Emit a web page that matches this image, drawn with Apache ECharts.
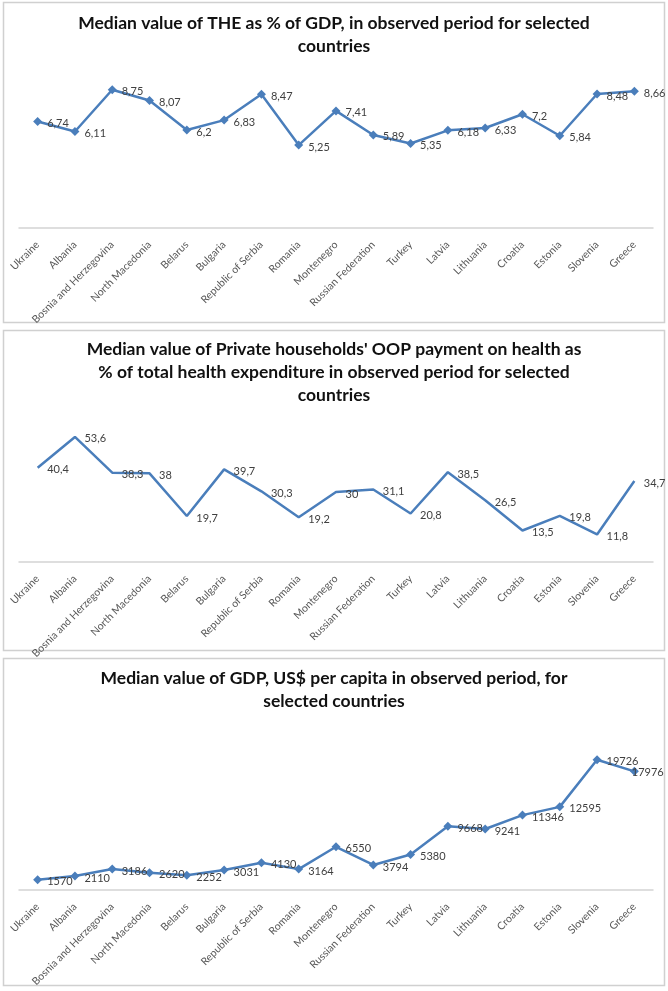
<!DOCTYPE html>
<html>
<head>
<meta charset="utf-8">
<script src="https://cdn.jsdelivr.net/npm/echarts@6/dist/echarts.min.js"></script>
<style>
html,body{margin:0;padding:0;background:#fff;}
#c{width:668px;height:991px;}
</style>
</head>
<body>
<div id="c"></div>
<script>
const countries = ["Ukraine","Albania","Bosnia and Herzegovina","North Macedonia","Belarus","Bulgaria","Republic of Serbia","Romania","Montenegro","Russian Federation","Turkey","Latvia","Lithuania","Croatia","Estonia","Slovenia","Greece"];
const theGdp = [6.74,6.11,8.75,8.07,6.2,6.83,8.47,5.25,7.41,5.89,5.35,6.18,6.33,7.2,5.84,8.48,8.66];
const oopShare = [40.4,53.6,38.3,38,19.7,39.7,30.3,19.2,30,31.1,20.8,38.5,26.5,13.5,19.8,11.8,34.7];
const gdpPerCapita = [1570,2110,3186,2620,2252,3031,4130,3164,6550,3794,5380,9668,9241,11346,12595,19726,17976];
const titles = [
  "Median value of THE as % of GDP, in observed period for selected\ncountries",
  "Median value of Private households' OOP payment on health as\n% of total health expenditure in observed period for selected\ncountries",
  "Median value of GDP, US$ per capita in observed period, for\nselected countries"
];
const yMax = [10, 60, 25000];

const FONT = "Lato, 'Open Sans', sans-serif";
const blue = "#4a7ebb";
const chart = echarts.init(document.getElementById('c'));

const grids = [
  {left:19, right:15, top:70, bottom:991-228},
  {left:19, right:15, top:422, bottom:991-562},
  {left:19, right:15, top:725, bottom:991-890}
];
const titleTops = [7, 333, 662];
const seriesData = [theGdp, oopShare, gdpPerCapita];
const showMarkers = [true, false, true];

function buildData(arr, i){
  return arr.map((v,k)=>{
    if (i===2 && k===arr.length-1) {
      return {value:v, label:{offset:[-12,1]}};
    }
    return v;
  });
}

const option = {
  animation:false,
  backgroundColor:'#fff',
  graphic:[
    {type:'rect', shape:{x:3.5,y:2.5,width:661,height:320}, style:{fill:'none',stroke:'#d0d0d0',lineWidth:1.5}},
    {type:'rect', shape:{x:3.5,y:330.5,width:661,height:320}, style:{fill:'none',stroke:'#d0d0d0',lineWidth:1.5}},
    {type:'rect', shape:{x:3.5,y:658.5,width:661,height:327}, style:{fill:'none',stroke:'#d0d0d0',lineWidth:1.5}}
  ],
  title: titles.map((t,i)=>({
    text:t, left:'center', top:titleTops[i],
    textStyle:{fontFamily:FONT, fontSize:17.5, fontWeight:'bold', color:'#111', lineHeight:23}
  })),
  grid: grids,
  xAxis: grids.map((g,i)=>({
    type:'category', gridIndex:i, data:countries, boundaryGap:true,
    axisLine:{lineStyle:{color:'#d4d4d4', width:1.5}},
    axisTick:{show:false},
    axisLabel:{rotate:45, interval:0, fontFamily:FONT, fontSize:10.5, color:'#595959', margin:15}
  })),
  yAxis: grids.map((g,i)=>({
    type:'value', gridIndex:i, min:0, max:yMax[i],
    axisLine:{show:false}, axisTick:{show:false}, axisLabel:{show:false},
    splitLine:{show:false}
  })),
  series: seriesData.map((d,i)=>({
    type:'line', xAxisIndex:i, yAxisIndex:i, data:buildData(d,i),
    symbol: 'diamond',
    symbolSize: showMarkers[i] ? 9 : 1,
    showSymbol: true,
    lineStyle:{color:blue, width:2.5},
    itemStyle:{color: showMarkers[i] ? blue : 'rgba(0,0,0,0)'},
    label:{show:true, position:'right', distance: showMarkers[i] ? 5 : 9, fontFamily:FONT, fontSize:11, color:'#404040',
      offset:[0,2],
      formatter:(p)=>String(p.value).replace('.',',')}
  }))
};
chart.setOption(option);
</script>
</body>
</html>
